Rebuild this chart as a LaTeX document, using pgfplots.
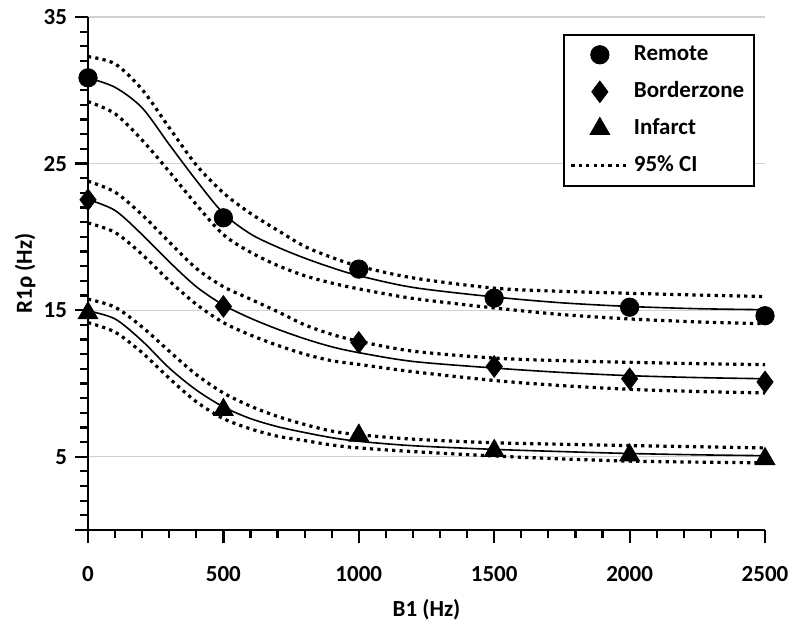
\documentclass[border=0pt]{standalone}
\usepackage{fontspec}
\setmainfont{Carlito}
\usepackage{pgfplots}
\pgfplotsset{compat=1.18}
\pgfplotsset{
  fitline/.style={black, line width=0.8pt, smooth, no marks},
  ci/.style={black, line width=1.6pt, dash pattern=on 1.6pt off 2.1pt, smooth, no marks},
}
\begin{document}
\fontsize{11.5}{14}\selectfont\bfseries
\begin{tikzpicture}
\begin{axis}[name=ax, scale only axis, width=338.5pt, height=256.5pt,
  xmin=0, xmax=2500, ymin=0, ymax=35,
  axis lines=left, axis line style={-, line width=1pt},
  tick align=outside, major tick length=6.5pt, minor tick length=3.8pt,
  tick style={black, line width=1.1pt},
  xtick={0,500,...,2500}, minor x tick num=4,
  ytick={0,5,15,25,35}, yticklabels={,5,15,25,35},
  minor ytick={1,2,3,4,6,7,8,9,10,11,12,13,14,16,17,18,19,20,21,22,23,24,26,27,28,29,30,31,32,33,34},
  ymajorgrids, major grid style={black!18, line width=0.6pt},
  /pgf/number format/assume math mode=true,
  /pgf/number format/set thousands separator={},
  xticklabel style={yshift=-7.5pt},
  xlabel={B1 (Hz)}, ylabel={R1ρ (Hz)},
  xlabel style={at={(axis description cs:0.5,-0.156)}, anchor=center},
  ylabel style={at={(axis description cs:-0.093,0.5)}, anchor=center},
  clip=false,
  legend image code/.code={\draw[mark repeat=2,mark phase=2,#1] plot coordinates {(0cm,0cm) (0.5cm,0cm) (1cm,0cm)};},
  legend style={at={(rel axis cs:1,1)}, anchor=north east, xshift=-5pt, yshift=-8.5pt,
    draw=black, line width=0.8pt, inner xsep=3pt, inner ysep=2pt, row sep=2.5pt,
    nodes={text height=9pt, text depth=3pt, inner sep=2pt}, cells={anchor=west}},
]
% fitted curves
\addplot[fitline, forget plot] coordinates {(0,30.85)(100,30.2)(200,28.8)(300,26.3)(400,23.85)(500,21.6)(600,20.2)(700,19.3)(800,18.55)(900,17.9)(1000,17.35)(1200,16.55)(1500,15.9)(1750,15.5)(2000,15.25)(2250,15.1)(2500,15.03)};
\addplot[fitline, forget plot] coordinates {(0,22.55)(100,21.8)(200,20.15)(300,18.3)(400,16.6)(500,15.35)(600,14.45)(700,13.7)(800,13.05)(900,12.5)(1000,12.1)(1200,11.5)(1500,11.05)(1750,10.75)(2000,10.53)(2250,10.4)(2500,10.32)};
\addplot[fitline, forget plot] coordinates {(0,14.95)(100,14.4)(200,12.9)(300,11.05)(400,9.55)(500,8.4)(600,7.6)(700,7.05)(800,6.65)(900,6.3)(1000,6.05)(1200,5.75)(1500,5.5)(1750,5.35)(2000,5.22)(2250,5.13)(2500,5.07)};
% 95% CI
\addplot[ci, forget plot] coordinates {(0,32.3)(100,31.8)(200,30.05)(300,27.45)(400,24.9)(500,23.0)(600,21.6)(700,20.45)(800,19.35)(900,18.6)(1000,18.0)(1200,17.2)(1500,16.5)(1750,16.28)(2000,16.15)(2250,16.03)(2500,15.93)};
\addplot[ci, forget plot] coordinates {(0,29.23)(100,28.4)(200,26.6)(300,24.45)(400,22.2)(500,20.15)(600,18.95)(700,18.05)(800,17.35)(900,16.85)(1000,16.45)(1200,15.8)(1500,15.15)(1750,14.7)(2000,14.4)(2250,14.2)(2500,14.07)};
\addplot[ci, forget plot] coordinates {(0,23.8)(100,23.05)(200,21.5)(300,19.65)(400,17.85)(500,16.6)(600,15.75)(700,14.9)(800,14.0)(900,13.35)(1000,12.88)(1200,12.2)(1500,11.73)(1750,11.55)(2000,11.44)(2250,11.35)(2500,11.28)};
\addplot[ci, forget plot] coordinates {(0,20.95)(100,20.3)(200,18.8)(300,17.0)(400,15.4)(500,14.15)(600,13.3)(700,12.6)(800,12.0)(900,11.55)(1000,11.3)(1200,10.8)(1500,10.2)(1750,9.85)(2000,9.6)(2250,9.45)(2500,9.35)};
\addplot[ci, forget plot] coordinates {(0,15.75)(100,15.2)(200,13.85)(300,12.2)(400,10.6)(500,9.35)(600,8.45)(700,7.75)(800,7.2)(900,6.75)(1000,6.5)(1200,6.2)(1500,5.95)(1750,5.85)(2000,5.76)(2250,5.68)(2500,5.6)};
\addplot[ci, forget plot] coordinates {(0,14.15)(100,13.5)(200,12.1)(300,10.35)(400,8.75)(500,7.6)(600,6.9)(700,6.4)(800,6.1)(900,5.8)(1000,5.6)(1200,5.35)(1500,5.05)(1750,4.85)(2000,4.7)(2250,4.63)(2500,4.58)};
% data points
\addplot[only marks, mark=*, mark size=4.6pt, black, mark options={line width=0.4pt}] coordinates {(0,30.85)(500,21.3)(1000,17.8)(1500,15.82)(2000,15.2)(2500,14.62)};
\addlegendentry{Remote}
\addplot[only marks, mark=diamond*, mark size=5.4pt, black, mark options={line width=0.4pt}] coordinates {(0,22.53)(500,15.25)(1000,12.8)(1500,11.16)(2000,10.32)(2500,10.1)};
\addlegendentry{Borderzone}
\addplot[only marks, mark=triangle*, mark size=5.7pt, black, mark options={line width=0.4pt}] coordinates {(0,14.8)(500,8.2)(1000,6.45)(1500,5.4)(2000,5.1)(2500,4.85)};
\addlegendentry{Infarct}
\addlegendimage{ci}
\addlegendentry{95\% CI}
\end{axis}
\path ([shift={(-44pt,-50.5pt)}]ax.south west) rectangle ([shift={(17.5pt,8.5pt)}]ax.north east);
\end{tikzpicture}
\end{document}
